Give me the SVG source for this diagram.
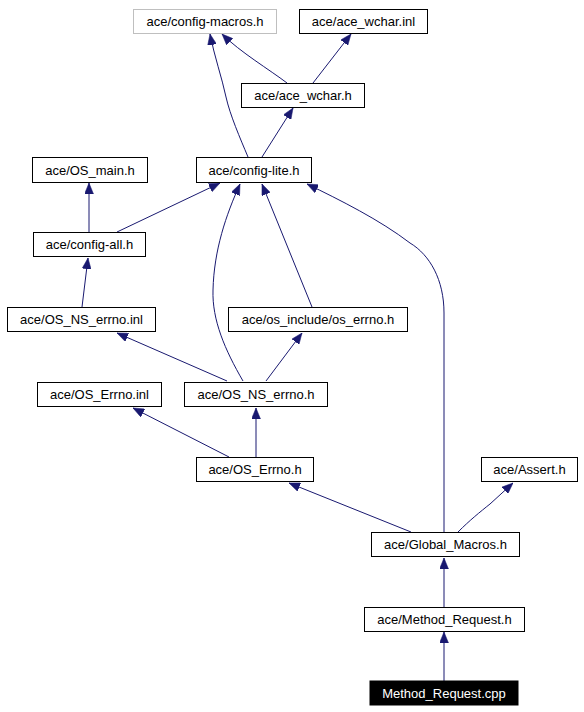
<svg xmlns="http://www.w3.org/2000/svg" width="584" height="712" viewBox="0 0 584 712">
<style>
.n rect{fill:#fff;stroke:#000;stroke-width:1}
.n text{font-family:"Liberation Sans",Arial,sans-serif;font-size:13px;text-anchor:middle;fill:#000}
.g rect{stroke:#bfbfbf}
.root rect{fill:#000}
.root text{fill:#fff}
#edges path{fill:none;stroke:#191970;stroke-width:1;marker-end:url(#ah)}
</style>
<defs>
<marker id="ah" viewBox="0 0 11 9" refX="11" refY="4.5" markerWidth="11" markerHeight="9" markerUnits="userSpaceOnUse" orient="auto">
<path d="M0,0 L11,4.5 L0,9 z" fill="#191970" stroke="#191970" stroke-width="0.5"/>
</marker>
</defs>
<rect width="584" height="712" fill="#fff"/>
<g id="edges">
<path d="M248,157 C240,138 230,115 226,97 C222,78 214,55 210,34"/>
<path d="M287,83 C270,70 240,52 222,34"/>
<path d="M313,83 L351,34"/>
<path d="M262,157 L293,108"/>
<path d="M89,232 L89,183"/>
<path d="M117,232 L220,183"/>
<path d="M82,307 L88,258"/>
<path d="M227,381 L117,333"/>
<path d="M243,381 C225,350 212,320 213,290 C214,250 226,215 240,184"/>
<path d="M266,381 L302,333"/>
<path d="M312,307 L262,184"/>
<path d="M444,532 L444,313 C444,280 430,255 410,243 C380,220 340,200 307,184"/>
<path d="M256,457 L256,408"/>
<path d="M229,457 L133,408"/>
<path d="M411,532 L289,483"/>
<path d="M458,532 C470,520 480,512 490,504 L513,483"/>
<path d="M444,607 L444,558"/>
<path d="M444,681 L444,632"/>
</g>
<g id="config-macros" class="n g"><rect x="133.5" y="9.5" width="143" height="24"/><text x="205" y="26">ace/config-macros.h</text></g>
<g id="ace_wchar_inl" class="n"><rect x="299.5" y="9.5" width="128" height="24"/><text x="363.5" y="26">ace/ace_wchar.inl</text></g>
<g id="ace_wchar_h" class="n"><rect x="241.5" y="83.5" width="123" height="24"/><text x="303" y="100">ace/ace_wchar.h</text></g>
<g id="OS_main" class="n"><rect x="32.5" y="157.5" width="115" height="25"/><text x="90" y="174.5">ace/OS_main.h</text></g>
<g id="config-lite" class="n"><rect x="196.5" y="157.5" width="115" height="25"/><text x="254" y="174.5">ace/config-lite.h</text></g>
<g id="config-all" class="n"><rect x="33.5" y="232.5" width="112" height="24"/><text x="89.5" y="249">ace/config-all.h</text></g>
<g id="OS_NS_errno_inl" class="n"><rect x="7.5" y="307.5" width="148" height="24"/><text x="81.5" y="324">ace/OS_NS_errno.inl</text></g>
<g id="os_errno_h" class="n"><rect x="228.5" y="307.5" width="179" height="24"/><text x="318" y="324">ace/os_include/os_errno.h</text></g>
<g id="OS_Errno_inl" class="n"><rect x="37.5" y="382.5" width="124" height="24"/><text x="99.5" y="399">ace/OS_Errno.inl</text></g>
<g id="OS_NS_errno_h" class="n"><rect x="184.5" y="382.5" width="143" height="24"/><text x="256" y="399">ace/OS_NS_errno.h</text></g>
<g id="OS_Errno_h" class="n"><rect x="196.5" y="457.5" width="117" height="24"/><text x="255" y="474">ace/OS_Errno.h</text></g>
<g id="Assert_h" class="n"><rect x="481.5" y="457.5" width="96" height="24"/><text x="529.5" y="474">ace/Assert.h</text></g>
<g id="Global_Macros" class="n"><rect x="371.5" y="532.5" width="148" height="24"/><text x="445.5" y="549">ace/Global_Macros.h</text></g>
<g id="Method_Request_h" class="n"><rect x="364.5" y="607.5" width="160" height="24"/><text x="444.5" y="624">ace/Method_Request.h</text></g>
<g id="Method_Request_cpp" class="n root"><rect x="370" y="681" width="148" height="24"/><text x="444" y="697.5">Method_Request.cpp</text></g>
</svg>
